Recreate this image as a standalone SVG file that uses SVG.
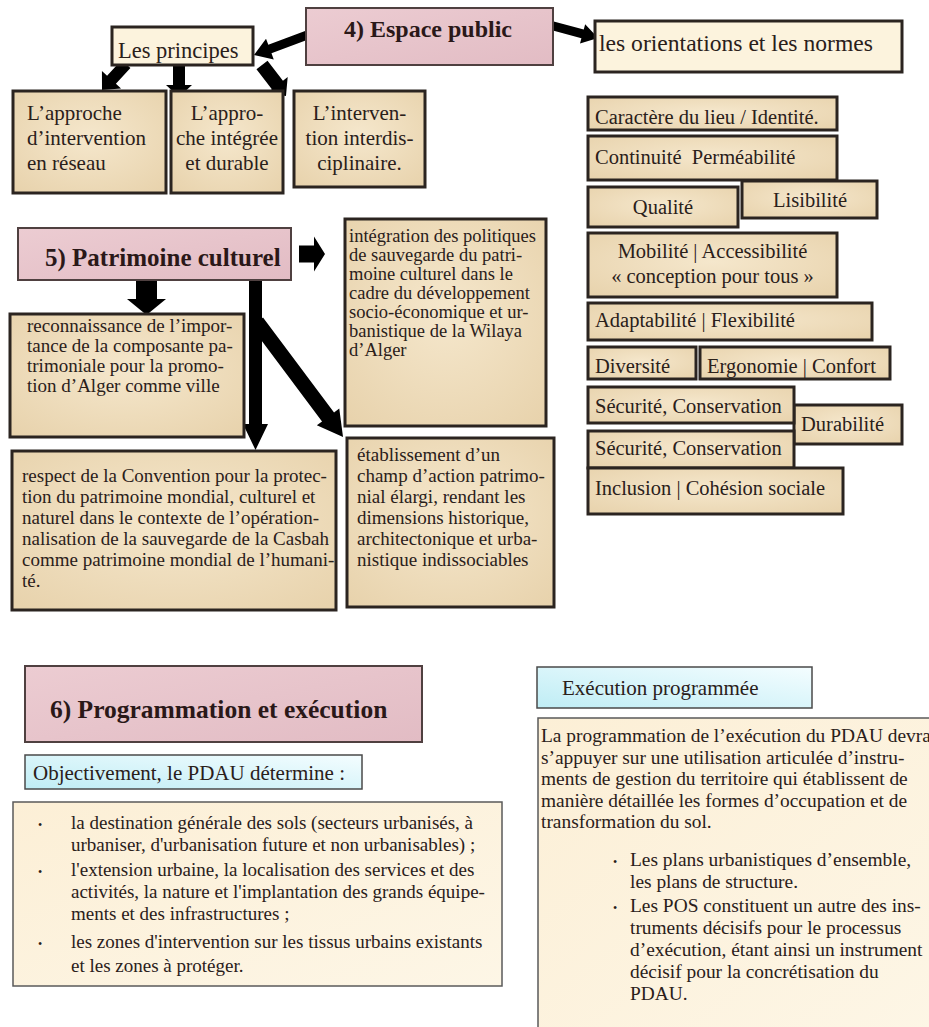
<svg xmlns="http://www.w3.org/2000/svg" width="929" height="1027" viewBox="0 0 929 1027">
<defs>
<radialGradient id="parch" cx="50%" cy="45%" r="70%">
<stop offset="0" stop-color="#f5e7cc"/>
<stop offset="1" stop-color="#e8d3ad"/>
</radialGradient>
<linearGradient id="pinkg" x1="0" y1="0" x2="1" y2="1">
<stop offset="0" stop-color="#ecccd2"/>
<stop offset="1" stop-color="#e2bcc4"/>
</linearGradient>
<linearGradient id="cyang" x1="0" y1="1" x2="1" y2="0">
<stop offset="0" stop-color="#bfedf5"/>
<stop offset="1" stop-color="#f4fdff"/>
</linearGradient>
<linearGradient id="lightg" x1="0" y1="0" x2="1" y2="1">
<stop offset="0" stop-color="#fcefd6"/>
<stop offset="1" stop-color="#fdf6e6"/>
</linearGradient>
<style>
.parch{fill:url(#parch);stroke:#2b2420;stroke-width:3}
.cream{fill:#fcf3dd;stroke:#2b2420;stroke-width:3}
.pink{fill:url(#pinkg);stroke:#4f4040;stroke-width:2}
.cyan{fill:url(#cyang);stroke:#4a4a4a;stroke-width:1.5}
.light{fill:url(#lightg);stroke:#5a5a5a;stroke-width:1.5}
text{font-family:"Liberation Serif","Times New Roman",serif;fill:#2a201a}
.b{font-weight:bold;fill:#2a1818}
.f185{font-size:18.5px}
.f19{font-size:19px}
.f205{font-size:20.5px}
.f21{font-size:21px}
.mid{text-anchor:middle}
.arrow{fill:#000}
.dot{font-size:12px}
</style>
</defs>
<rect width="929" height="1027" fill="#ffffff"/>

<g id="connectors">
<path class="arrow" transform="translate(318,31) rotate(159.4)" d="M0,-4.5 L51.4,-4.5 L51.4,-11 L68.4,0 L51.4,11 L51.4,4.5 L0,4.5Z"/>
<path class="arrow" transform="translate(531,20) rotate(15)" d="M0,-4.5 L53.4,-4.5 L53.4,-10 L69.4,0 L53.4,10 L53.4,4.5 L0,4.5Z"/>
<path class="arrow" transform="translate(126,64) rotate(132.7)" d="M0,-6 L21.4,-6 L21.4,-13 L35.4,0 L21.4,13 L21.4,6 L0,6Z"/>
<path class="arrow" transform="translate(179,64) rotate(90)" d="M0,-6 L21,-6 L21,-13 L33,0 L21,13 L21,6 L0,6Z"/>
<path class="arrow" transform="translate(262,65) rotate(52.3)" d="M0,-7 L25.2,-7 L25.2,-13 L39.2,0 L25.2,13 L25.2,7 L0,7Z"/>
<path class="arrow" transform="translate(299,254)" d="M0,-8.5 L15,-8.5 L15,-17.5 L26,0 L15,17.5 L15,8.5 L0,8.5Z"/>
<path class="arrow" transform="translate(146.5,280) rotate(90)" d="M0,-10.5 L19,-10.5 L19,-19.5 L35,0 L19,19.5 L19,10.5 L0,10.5Z"/>
<path class="arrow" transform="translate(255.5,280) rotate(90)" d="M0,-6.5 L144,-6.5 L144,-12.5 L170,0 L144,12.5 L144,6.5 L0,6.5Z"/>
<path class="arrow" transform="translate(257,322) rotate(53.2)" d="M0,-7.5 L118.6,-7.5 L118.6,-14 L143.6,0 L118.6,14 L118.6,7.5 L0,7.5Z"/>
</g>

<g id="espace-public">
<rect class="pink" x="306" y="8" width="247" height="57"/>
<text class="b mid" x="428" y="37" font-size="24">4) Espace public</text>
</g>

<g id="les-principes">
<rect class="cream" x="112" y="27" width="141" height="38"/>
<text x="118" y="58" font-size="22.5">Les principes</text>
</g>

<g id="orientations">
<rect class="cream" x="595" y="21" width="307" height="51"/>
<text x="599" y="51" font-size="23.6">les orientations et les normes</text>
</g>

<g id="approche-reseau">
<rect class="parch" x="13" y="91" width="153" height="102"/>
<text class="f21" x="27" y="120">L’approche</text>
<text class="f21" x="27" y="145">d’intervention</text>
<text class="f21" x="27" y="170">en réseau</text>
</g>

<g id="approche-integree">
<rect class="parch" x="171" y="91" width="112" height="102"/>
<text class="f21 mid" x="227" y="120">L’appro-</text>
<text class="f21 mid" x="227" y="145">che intégrée</text>
<text class="f21 mid" x="227" y="170">et durable</text>
</g>

<g id="interdisciplinaire">
<rect class="parch" x="294" y="91" width="131" height="96"/>
<text class="f21 mid" x="359.5" y="120">L’interven-</text>
<text class="f21 mid" x="359.5" y="145">tion interdis-</text>
<text class="f21 mid" x="359.5" y="170">ciplinaire.</text>
</g>

<g id="caractere">
<rect class="parch" x="588" y="97" width="249" height="33"/>
<text class="f205" x="595" y="124">Caractère du lieu / Identité.</text>
</g>
<g id="continuite">
<rect class="parch" x="588" y="136" width="249" height="44"/>
<text class="f205" x="595" y="164" xml:space="preserve">Continuité  Perméabilité</text>
</g>
<g id="qualite">
<rect class="parch" x="588" y="187" width="150" height="40"/>
<text class="f205 mid" x="663" y="214">Qualité</text>
</g>
<g id="lisibilite">
<rect class="parch" x="742" y="181" width="135" height="37"/>
<text class="f205 mid" x="810" y="207">Lisibilité</text>
</g>
<g id="mobilite">
<rect class="parch" x="588" y="233" width="249" height="64"/>
<text class="f205 mid" x="712.5" y="258">Mobilité | Accessibilité</text>
<text class="f205 mid" x="712.5" y="283">« conception pour tous »</text>
</g>
<g id="adaptabilite">
<rect class="parch" x="588" y="303" width="284" height="37"/>
<text class="f205" x="595" y="327">Adaptabilité | Flexibilité</text>
</g>
<g id="diversite">
<rect class="parch" x="588" y="347" width="108" height="32"/>
<text class="f205" x="595" y="373">Diversité</text>
</g>
<g id="ergonomie">
<rect class="parch" x="700" y="347" width="190" height="32"/>
<text class="f205" x="707" y="373">Ergonomie | Confort</text>
</g>
<g id="durabilite">
<rect class="parch" x="794" y="405" width="108" height="39"/>
<text class="f205" x="801" y="431">Durabilité</text>
</g>
<g id="securite-1">
<rect class="parch" x="588" y="387" width="206" height="36"/>
<text class="f205" x="595" y="413">Sécurité, Conservation</text>
</g>
<g id="securite-2">
<rect class="parch" x="588" y="431" width="206" height="37"/>
<text class="f205" x="595" y="455">Sécurité, Conservation</text>
</g>
<g id="inclusion">
<rect class="parch" x="588" y="468" width="255" height="46"/>
<text class="f205" x="595" y="495">Inclusion | Cohésion sociale</text>
</g>

<g id="patrimoine">
<rect class="pink" x="18" y="228" width="273" height="52"/>
<text class="b" x="45" y="266" font-size="25">5) Patrimoine culturel</text>
</g>

<g id="integration">
<rect class="parch" x="345" y="219" width="201" height="207"/>
<text class="f185" x="349" y="242">intégration des politiques</text>
<text class="f185" x="349" y="261">de sauvegarde du patri-</text>
<text class="f185" x="349" y="280">moine culturel dans le</text>
<text class="f185" x="349" y="299">cadre du développement</text>
<text class="f185" x="349" y="318">socio-économique et ur-</text>
<text class="f185" x="349" y="337">banistique de la Wilaya</text>
<text class="f185" x="349" y="356">d’Alger</text>
</g>

<g id="reconnaissance">
<rect class="parch" x="10" y="314" width="234" height="123"/>
<text class="f19" x="27" y="332">reconnaissance de l’impor-</text>
<text class="f19" x="27" y="352">tance de la composante pa-</text>
<text class="f19" x="27" y="372">trimoniale pour la promo-</text>
<text class="f19" x="27" y="392">tion d’Alger comme ville</text>
</g>

<g id="respect">
<rect class="parch" x="12" y="451" width="324" height="159"/>
<text class="f19" x="22" y="482">respect de la Convention pour la protec-</text>
<text class="f19" x="22" y="503">tion du patrimoine mondial, culturel et</text>
<text class="f19" x="22" y="524">naturel dans le contexte de l’opération-</text>
<text class="f19" x="22" y="545">nalisation de la sauvegarde de la Casbah</text>
<text class="f19" x="22" y="566">comme patrimoine mondial de l’humani-</text>
<text class="f19" x="22" y="587">té.</text>
</g>

<g id="etablissement">
<rect class="parch" x="347" y="438" width="207" height="169"/>
<text class="f19" x="357" y="461">établissement d’un</text>
<text class="f19" x="357" y="482">champ d’action patrimo-</text>
<text class="f19" x="357" y="503">nial élargi, rendant les</text>
<text class="f19" x="357" y="524">dimensions historique,</text>
<text class="f19" x="357" y="545">architectonique et urba-</text>
<text class="f19" x="357" y="566">nistique indissociables</text>
</g>

<g id="programmation">
<rect class="pink" x="25" y="666" width="397" height="76"/>
<text class="b" x="50" y="718" font-size="25.5">6) Programmation et exécution</text>
</g>

<g id="objectivement">
<rect class="cyan" x="25" y="755" width="337" height="34"/>
<text x="33" y="780" font-size="21">Objectivement, le PDAU détermine :</text>
</g>

<g id="liste-pdau">
<rect class="light" x="13" y="802" width="489" height="184"/>
<text class="dot" x="38" y="829">•</text>
<text class="f19" x="71" y="829">la destination générale des sols (secteurs urbanisés, à</text>
<text class="f19" x="71" y="851">urbaniser, d'urbanisation future et non urbanisables) ;</text>
<text class="dot" x="38" y="876">•</text>
<text class="f19" x="71" y="876">l'extension urbaine, la localisation des services et des</text>
<text class="f19" x="71" y="898">activités, la nature et l'implantation des grands équipe-</text>
<text class="f19" x="71" y="920">ments et des infrastructures ;</text>
<text class="dot" x="38" y="948">•</text>
<text class="f19" x="71" y="948">les zones d'intervention sur les tissus urbains existants</text>
<text class="f19" x="71" y="972">et les zones à protéger.</text>
</g>

<g id="execution-programmee">
<rect class="cyan" x="537" y="667" width="275" height="41"/>
<text x="562" y="695" font-size="21">Exécution programmée</text>
</g>

<g id="execution-texte">
<rect class="light" x="538" y="718" width="400" height="320"/>
<text x="541" y="742" font-size="19.4">La programmation de l’exécution du PDAU devra</text>
<text x="541" y="763.5" font-size="19.4">s’appuyer sur une utilisation articulée d’instru-</text>
<text x="541" y="785" font-size="19.4">ments de gestion du territoire qui établissent de</text>
<text x="541" y="806.5" font-size="19.4">manière détaillée les formes d’occupation et de</text>
<text x="541" y="828" font-size="19.4">transformation du sol.</text>
<text class="dot" x="613" y="866">•</text>
<text x="630" y="866" font-size="19.4">Les plans urbanistiques d’ensemble,</text>
<text x="630" y="888" font-size="19.4">les plans de structure.</text>
<text class="dot" x="613" y="912">•</text>
<text x="630" y="912" font-size="19.4">Les POS constituent un autre des ins-</text>
<text x="630" y="934" font-size="19.4">truments décisifs pour le processus</text>
<text x="630" y="956" font-size="19.4">d’exécution, étant ainsi un instrument</text>
<text x="630" y="978" font-size="19.4">décisif pour la concrétisation du</text>
<text x="630" y="1000" font-size="19.4">PDAU.</text>
</g>
</svg>
